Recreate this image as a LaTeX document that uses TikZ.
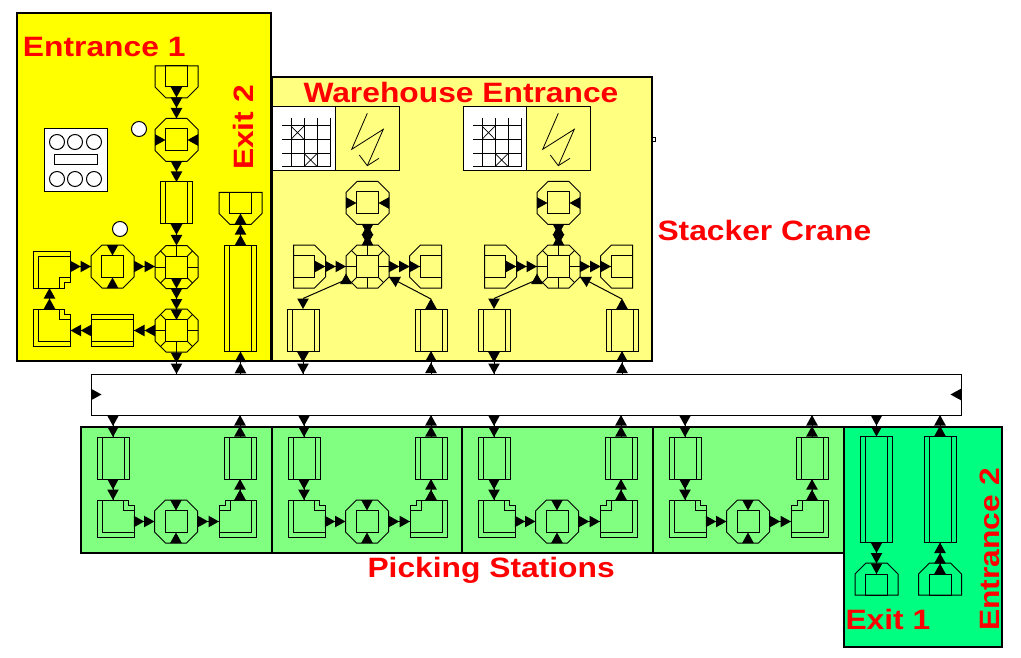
\documentclass[tikz,border=0pt]{standalone}
\usepackage{fontspec}
\newfontfamily\labelfont[FakeStretch=1.135]{Liberation Sans}
\usetikzlibrary{arrows.meta, positioning, calc, decorations.markings}

\definecolor{inyellow}{RGB}{255,255,0}
\definecolor{craneyellow}{RGB}{255,255,128}
\definecolor{pickgreen}{RGB}{128,255,128}
\definecolor{lastgreen}{RGB}{0,255,128}

\newcommand{\symb}[3]{\node[#1] (#2) at (#3) {}; \pic at (#2) {#1};}
\newcommand{\tipfill}{\fill[black] (-10.5pt,-5.8pt) -- (0pt,0pt) -- (-10.5pt,5.8pt) -- cycle;}

\tikzset{
  hull/.style 2 args={inner sep=0pt, outer sep=0pt, minimum width=#1pt, minimum height=#2pt},
  octa/.style={hull={43}{43}}, octalr/.style={hull={43}{43}},
  octatb/.style={hull={43}{43}}, octaspoke/.style={hull={43}{43}},
  vbox/.style={hull={32}{42}}, hbox/.style={hull={43}{32}}, tallbox/.style={hull={32}{106}},
  gatedown/.style={hull={43}{32}}, gateup/.style={hull={43}{32}},
  gateright/.style={hull={33}{43}}, gateleft/.style={hull={33}{43}},
  notetr/.style={hull={37}{37}}, notetl/.style={hull={37}{37}}, notebr/.style={hull={37}{37}},
  pics/wedge/.style={code={\fill[black] (-5.8,0) -- (5.8,0) -- (0,10.5) -- cycle;}},
  pics/octa/.style={code={
    \draw (-21.5,-10.5) -- (-10.5,-21.5) -- (10.5,-21.5) -- (21.5,-10.5) -- (21.5,10.5)
      -- (10.5,21.5) -- (-10.5,21.5) -- (-21.5,10.5) -- cycle;
    \draw (-11,-11) rectangle (11,11);
  }},
  pics/octalr/.style={code={
    \pic {octa};
    \pic[rotate=90] at (-21.5,0) {wedge};
    \pic[rotate=-90] at (21.5,0) {wedge};
  }},
  pics/octatb/.style={code={
    \pic {octa};
    \pic at (0,-21.5) {wedge};
    \pic[rotate=180] at (0,21.5) {wedge};
  }},
  pics/octaspoke/.style={code={
    \pic {octa};
    \draw (0,-21.5) -- (0,-11) (0,11) -- (0,21.5) (-21.5,0) -- (-11,0) (11,0) -- (21.5,0);
    \draw (-11,-11) -- (-16,-16) (11,-11) -- (16,-16) (-11,11) -- (-16,16) (11,11) -- (16,16);
  }},
  pics/vbox/.style={code={
    \draw (-16,-21) rectangle (16,21);
    \draw (-11,-21) -- (-11,21) (11,-21) -- (11,21);
  }},
  pics/hbox/.style={code={\pic[rotate=90] {vbox};}},
  pics/tallbox/.style={code={
    \draw (-16,-53) rectangle (16,53);
    \draw (-11,-53) -- (-11,53) (11,-53) -- (11,53);
  }},
  pics/gatedown/.style={code={
    \draw (-21.5,-16) -- (21.5,-16) -- (21.5,5) -- (10.5,16) -- (-10.5,16) -- (-21.5,5) -- cycle;
    \draw (-11,-16) rectangle (11,5);
  }},
  pics/gateup/.style={code={\pic[rotate=180] {gatedown};}},
  pics/gateright/.style={code={\pic[rotate=90] {gatedown};}},
  pics/gateleft/.style={code={\pic[rotate=-90] {gatedown};}},
  pics/notetr/.style={code={
    \draw (-18.5,-18.5) -- (12.5,-18.5) -- (12.5,-13.2) -- (18.5,-13.2) -- (18.5,18.5)
      -- (-18.5,18.5) -- cycle;
    \draw (-13.5,-18.5) -- (-13.5,13.5) -- (18.5,13.5);
    \draw (7.5,-18.5) -- (7.5,-8) -- (18.5,-8);
  }},
  pics/notetl/.style={code={\pic[xscale=-1] {notetr};}},
  pics/notebr/.style={code={\pic[yscale=-1] {notetr};}}
}

\begin{document}
\begin{tikzpicture}[
  x=1pt, y=-1pt,
  line width=1pt,
  panel/.style={draw=black, line width=1.6pt, inner sep=0pt, outer sep=0pt, anchor=north west},
  lamp/.style={circle, draw=black, fill=white, inner sep=0pt, minimum size=15pt},
  tag/.style={font=\labelfont\bfseries\fontsize{28}{30}\selectfont, text=red, inner sep=0pt},
  linkline/.style={draw=black, line width=1pt},
  flowone/.style={linkline, postaction={decorate}, decoration={markings,
    mark=at position 1 with {\tipfill}}},
  flowtwo/.style={linkline, postaction={decorate}, decoration={markings,
    mark=at position 0.5 with {\tipfill},
    mark=at position 1 with {\tipfill}}},
  flowthree/.style={linkline, postaction={decorate}, decoration={markings,
    mark=at position 0.3333 with {\tipfill},
    mark=at position 0.6667 with {\tipfill},
    mark=at position 1 with {\tipfill}}},
  flowfour/.style={linkline, postaction={decorate}, decoration={markings,
    mark=at position 0.25 with {\tipfill},
    mark=at position 0.5 with {\tipfill},
    mark=at position 0.75 with {\tipfill},
    mark=at position 1 with {\tipfill}}}
]
\useasboundingbox (0,0) rectangle (1021,658);

% ----- panels -----
\node[panel, fill=inyellow, minimum width=254pt, minimum height=348pt] (inpanel) at (17,13) {};
\node[panel, fill=craneyellow, minimum width=380pt, minimum height=284pt] (cranepanel) at (272,77) {};
\node[panel, fill=white, line width=0.8pt, minimum width=3pt, minimum height=4.5pt] (stub) at (652.7,137) {};
\node[panel, fill=white, line width=1pt, minimum width=870pt, minimum height=41pt] (bus) at (91,374) {};
\pic[rotate=90] at (bus.west) {wedge};
\pic[rotate=-90] at (bus.east) {wedge};

% ----- entrance 1 and exit 2 -----
\node[draw=black, fill=white, inner sep=0pt, minimum width=63pt, minimum height=63pt] (console) at (75.5,160.5) {};
\foreach \c/\x in {a/57, b/75, c/94}{
  \node[lamp] (lamptop\c) at (\x,142) {};
  \node[lamp] (lampbot\c) at (\x,179) {};
}
\node[draw=black, fill=white, inner sep=0pt, minimum width=43pt, minimum height=10pt] (slot) at (75.5,160) {};
\node[lamp] (lampa) at (139,129) {};
\node[lamp] (lampb) at (120,229) {};

\symb{gatedown}{entry}{176.5,82}
\symb{octalr}{scan}{176.5,140}
\symb{vbox}{chute}{176.5,203}
\symb{octaspoke}{crossa}{176.5,267}
\symb{octaspoke}{crossb}{176.5,330.5}
\symb{octatb}{turn}{112.5,266.5}
\symb{hbox}{loopbox}{112.5,330.5}
\symb{notebr}{notea}{52,269.5}
\symb{notetr}{noteb}{52,327.5}
\symb{gatedown}{exitb}{240.5,208.5}
\symb{tallbox}{exitbox}{240.5,298.5}

\draw[flowthree] ([yshift=11pt]entry.south) -- (scan.north);
\draw[flowtwo] (scan.south) -- (chute.north);
\draw[flowtwo] (chute.south) -- (crossa.north);
\draw[flowfour] ([yshift=10.5pt]crossa.south) -- ([yshift=-11pt]crossb.north);
\draw[flowtwo] (crossb.south) -- (crossb.south |- bus.north);
\draw[flowtwo] (notea.east |- turn) -- (turn.west);
\draw[flowtwo] (turn.east) -- (crossa.west |- turn);
\draw[flowtwo] (crossb.west) -- (loopbox.east);
\draw[flowtwo] (loopbox.west) -- (noteb.east |- loopbox);
\draw[flowtwo] ([xshift=-2.5pt]noteb.north) -- ([xshift=-2.5pt]notea.south);
\draw[flowtwo] (exitbox.south |- bus.north) -- (exitbox.south);
\draw[flowthree] (exitbox.north) -- ([yshift=11pt]exitb.south);

% ----- stacker cranes -----
\foreach \i/\x in {a/0, b/191}{
\begin{scope}[shift={(\x,0)}]
  \node[panel, fill=white, line width=1pt, minimum width=63pt, minimum height=64pt] (grid\i) at (272,107) {};
  \node[panel, line width=1pt, minimum width=64pt, minimum height=64pt] (bolt\i) at (335,107) {};
  \foreach \gx in {291,304,317.3,330.7} \draw (\gx,118) -- (\gx,166.7);
  \foreach \gy in {126,139.3,153.3,166.7} \draw (282,\gy) -- (331,\gy);
  \draw[line width=0.7pt] (291,126) -- (304,139.3) (304,126) -- (291,139.3);
  \draw[line width=0.7pt] (304,153.3) -- (317.3,166.7) (317.3,153.3) -- (304,166.7);
  \draw[line width=0.8pt] (367.3,113.3) -- (351.7,149.3) -- (383.3,129.3) -- (367.3,165.7);
  \draw[line width=0.8pt] (359.3,155) -- (367.3,165.7) -- (379,158.3);

  \symb{octalr}{craneup\i}{367.5,203}
  \symb{octaspoke}{crane\i}{367.5,266.5}
  \symb{gateright}{gatein\i}{309.5,266.5}
  \symb{gateleft}{gateout\i}{425.5,266.5}
  \symb{vbox}{boxl\i}{303,330}
  \symb{vbox}{boxr\i}{431,330}

  \draw[flowtwo] (craneup\i.south) -- (crane\i.north);
  \draw[flowtwo] (crane\i.north) -- (craneup\i.south);
  \draw[flowthree] ([xshift=-11pt]gatein\i.east) -- (crane\i.west);
  \draw[flowthree] (crane\i.east) -- ([xshift=11pt]gateout\i.west);

  \pic[rotate=180] at ([yshift=4pt]crane\i.south west) {wedge};
  \pic at ([yshift=10.5pt]boxl\i.north) {wedge};
  \draw[linkline] ([shift={(-3pt,7pt)}]crane\i.south west) -- ([yshift=10.5pt]boxl\i.north);
  \pic[rotate=180] at (boxr\i.north) {wedge};
  \draw[flowone] ([yshift=10pt]boxr\i.north) -- ([yshift=11pt]crane\i.south east);

  \draw[flowtwo] (boxl\i.south) -- (boxl\i.south |- bus.north);
  \draw[flowtwo] (boxr\i.south |- bus.north) -- (boxr\i.south);
\end{scope}
}

% ----- picking stations -----
\foreach \i/\x in {a/0, b/191, c/381, d/572}{
\begin{scope}[shift={(\x,0)}]
  \node[panel, fill=pickgreen, minimum width=191pt, minimum height=126pt] (station\i) at (81,427) {};
  \symb{vbox}{inbox\i}{113,458}
  \symb{vbox}{outbox\i}{240,458}
  \symb{notetr}{notein\i}{115.5,518.5}
  \symb{notetl}{noteout\i}{237.5,518.5}
  \symb{octatb}{pick\i}{176,521.5}

  \draw[flowtwo] (inbox\i.north |- bus.south) -- (inbox\i.north);
  \draw[flowtwo] (inbox\i.south) -- (inbox\i.south |- notein\i.north);
  \draw[flowtwo] (notein\i.east |- pick\i) -- (pick\i.west);
  \draw[flowtwo] (pick\i.east) -- (noteout\i.west |- pick\i);
  \draw[flowtwo] (outbox\i.south |- noteout\i.north) -- (outbox\i.south);
  \draw[flowtwo] (outbox\i.north) -- (outbox\i.north |- bus.south);
\end{scope}
}

% ----- exit 1 and entrance 2 -----
\node[panel, fill=lastgreen, minimum width=158pt, minimum height=220pt] (lastpanel) at (844,427) {};
\symb{tallbox}{lastout}{876.5,489.5}
\symb{tallbox}{lastin}{940,489.5}
\symb{gateup}{exita}{876.5,579}
\symb{gateup}{entb}{940,579}
\draw[flowtwo] (lastout.north |- bus.south) -- (lastout.north);
\draw[flowtwo] (lastin.north) -- (lastin.north |- bus.south);
\draw[flowthree] (lastout.south) -- ([yshift=-11pt]exita.north);
\draw[flowthree] ([yshift=-11pt]entb.north) -- (lastin.south);

% ----- labels -----
\node[tag, anchor=west] (lblentrya) at (22.5,47) {Entrance 1};
\node[tag, rotate=90] (lblexitb) at (243,127.5) {Exit 2};
\node[tag, anchor=west] (lblhouse) at (303,92) {Warehouse Entrance};
\node[tag, anchor=west] (lblcrane) at (657,230) {Stacker Crane};
\node[tag, anchor=west] (lblpick) at (367,570) {Picking Stations};
\node[tag, anchor=west] (lblexita) at (845,619) {Exit 1};
\node[tag, rotate=90] (lblentb) at (990,549.5) {Entrance 2};
\end{tikzpicture}
\end{document}
